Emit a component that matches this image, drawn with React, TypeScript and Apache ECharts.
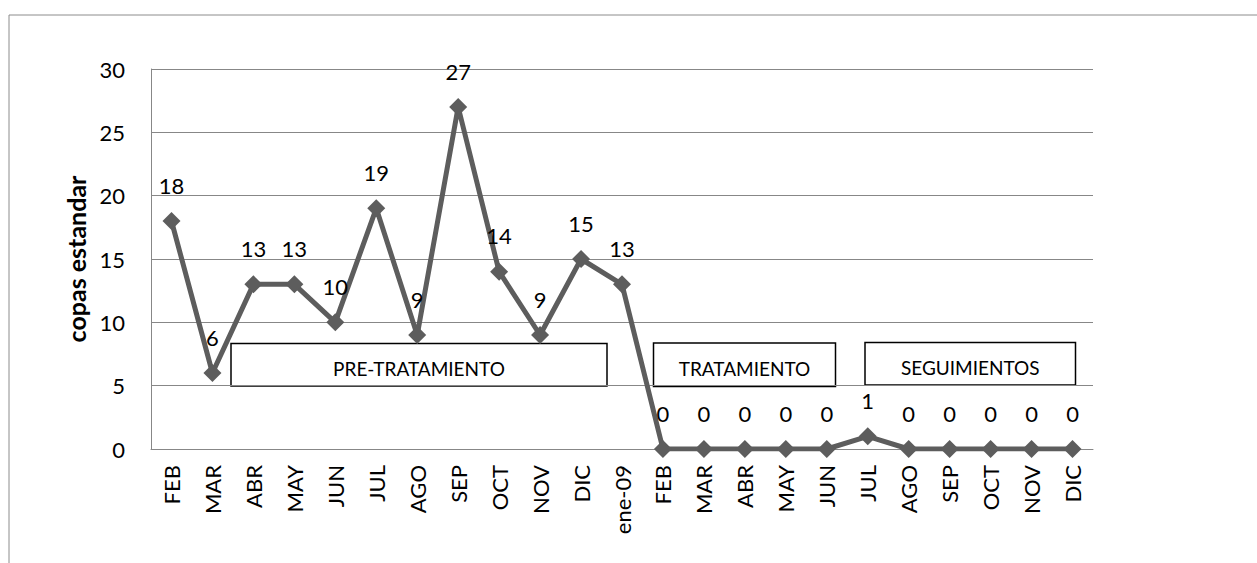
import React, { useEffect, useRef } from "react";
import * as echarts from "echarts";

const months = [
  "FEB", "MAR", "ABR", "MAY", "JUN", "JUL", "AGO", "SEP", "OCT", "NOV", "DIC", "ene-09",
  "FEB", "MAR", "ABR", "MAY", "JUN", "JUL", "AGO", "SEP", "OCT", "NOV", "DIC",
];
const copas = [18, 6, 13, 13, 10, 19, 9, 27, 14, 9, 15, 13, 0, 0, 0, 0, 0, 1, 0, 0, 0, 0, 0];
const yTicks = { min: 0, max: 30, interval: 5 };
const yTitle = "copas estandar";
const phases = ["PRE-TRATAMIENTO", "TRATAMIENTO", "SEGUIMIENTOS"];

const FONT = "Lato, 'Noto Sans', sans-serif";

export default function App() {
  const ref = useRef<HTMLDivElement>(null);
  useEffect(() => {
    if (!ref.current) return;
    const chart = echarts.init(ref.current, undefined, { renderer: "svg" });
    const boxes = [
      { x: 231, y: 343.5, w: 376, h: 42.5, t: phases[0] },
      { x: 653.5, y: 343, w: 182, h: 43.5, t: phases[1] },
      { x: 865, y: 342.5, w: 210.5, h: 42.5, t: phases[2] },
    ];
    chart.setOption({
      animation: false,
      backgroundColor: "#ffffff",
      textStyle: { fontFamily: FONT },
      grid: { left: 151, right: 164, top: 69, bottom: 114 },
      xAxis: {
        type: "category",
        data: months,
        boundaryGap: true,
        axisLine: { show: true, lineStyle: { color: "#878787", width: 1 } },
        axisTick: { show: false },
        axisLabel: {
          rotate: 90,
          margin: 16,
          fontSize: 22,
          color: "#000",
          fontFamily: FONT,
          interval: 0,
        },
        splitLine: { show: false },
      },
      yAxis: {
        type: "value",
        min: yTicks.min,
        max: yTicks.max,
        interval: yTicks.interval,
        name: yTitle,
        nameLocation: "middle",
        nameGap: 63,
        nameTextStyle: { fontSize: 25, fontWeight: "bold", color: "#000", fontFamily: FONT },
        axisLine: { show: true, lineStyle: { color: "#878787", width: 1 } },
        axisTick: { show: false },
        axisLabel: { margin: 26, fontSize: 22, color: "#000", fontFamily: FONT },
        splitLine: { show: true, lineStyle: { color: "#878787", width: 1 } },
      },
      series: [
        {
          type: "line",
          data: copas,
          symbol: "diamond",
          symbolSize: 18,
          itemStyle: { color: "#5d5d5d" },
          lineStyle: { color: "#5d5d5d", width: 5 },
          label: {
            show: true,
            position: "top",
            distance: 16,
            fontSize: 22,
            color: "#000",
            fontFamily: FONT,
          },
          z: 2,
        },
      ],
      graphic: [
        {
          type: "rect",
          left: 6.5,
          top: 12.5,
          shape: { x: 0, y: 0, width: 1300, height: 600 },
          style: { fill: "none", stroke: "#8c8c8c", lineWidth: 1 },
          silent: true,
          z: -10,
        },
        ...boxes.map((b) => ({
          type: "group",
          x: b.x,
          y: b.y,
          z: 100,
          children: [
            {
              type: "rect",
              shape: { x: 0, y: 0, width: b.w, height: b.h },
              style: { fill: "#ffffff", stroke: "#000000", lineWidth: 1.5 },
            },
            {
              type: "text",
              x: b.w / 2,
              y: b.h / 2 + 4,
              style: {
                text: b.t,
                fontSize: 19,
                fontFamily: FONT,
                fill: "#000",
                align: "center",
                verticalAlign: "middle",
              },
            },
          ],
        })),
      ],
    });
    return () => chart.dispose();
  }, []);
  return (
    <div
      ref={ref}
      style={{ position: "fixed", left: 0, top: 0, width: 1257, height: 563 }}
    />
  );
}
